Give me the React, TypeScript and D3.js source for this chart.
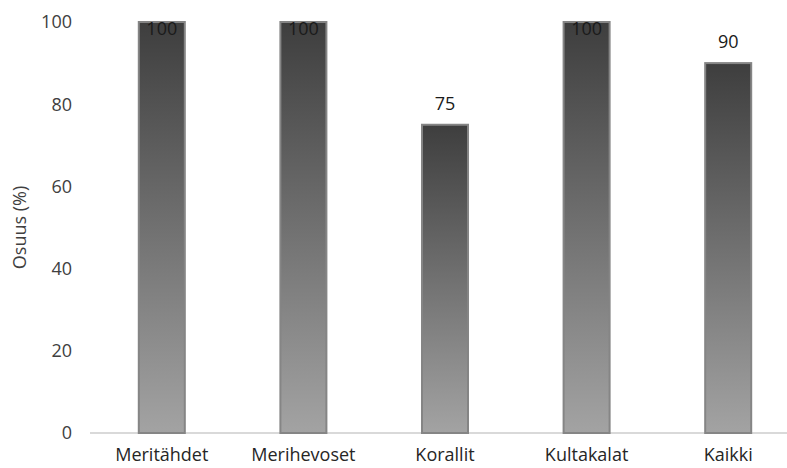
import React from "react";
import * as d3 from "d3";

const categories = ["Meritähdet", "Merihevoset", "Korallit", "Kultakalat", "Kaikki"];
const values = [100, 100, 75, 100, 90];
const yTicks = [0, 20, 40, 60, 80, 100];
const yTitle = "Osuus (%)";

export default function App() {
  const W = 787, H = 468;
  const x = d3.scaleBand<string>().domain(categories).range([91, 799]).paddingInner(0.675).paddingOuter(0.3375);
  const y = d3.scaleLinear().domain([0, 100]).range([433, 22]);
  const font = "'Open Sans', sans-serif";
  return (
    <svg width={W} height={H} style={{ position: "absolute", left: 0, top: 0, background: "#fff" }}>
      <defs>
        <linearGradient id="barGrad" x1="0" y1="0" x2="0" y2="1">
          <stop offset="0" stopColor="#3e3e3e" />
          <stop offset="1" stopColor="#a3a3a3" />
        </linearGradient>
      </defs>
      <line x1={90} x2={W} y1={y(0)} y2={y(0)} stroke="#d9d9d9" strokeWidth={2} />
      {yTicks.map(t => (
        <text key={t} x={72} y={y(t)} dy="0.35em" textAnchor="end" fontFamily={font} fontSize={18} fill="#404040">{t}</text>
      ))}
      <text transform={`translate(20,${(y(0) + y(100)) / 2}) rotate(-90)`} textAnchor="middle" dy="0.35em" fontFamily={font} fontSize={18} fill="#404040">{yTitle}</text>
      {categories.map((c, i) => {
        const bx = x(c)!;
        const bw = x.bandwidth();
        const top = y(values[i]);
        const ly = Math.max(top - 15, 35);
        return (
          <g key={c}>
            <rect x={bx} y={top} width={bw} height={y(0) - top} fill="url(#barGrad)" stroke="#858585" strokeWidth={2} />
            <text x={bx + bw / 2} y={ly} textAnchor="middle" fontFamily={font} fontSize={18} fill="#1a1a1a">{values[i]}</text>
            <text x={bx + bw / 2} y={461} textAnchor="middle" fontFamily={font} fontSize={18} fill="#262626">{c}</text>
          </g>
        );
      })}
    </svg>
  );
}
